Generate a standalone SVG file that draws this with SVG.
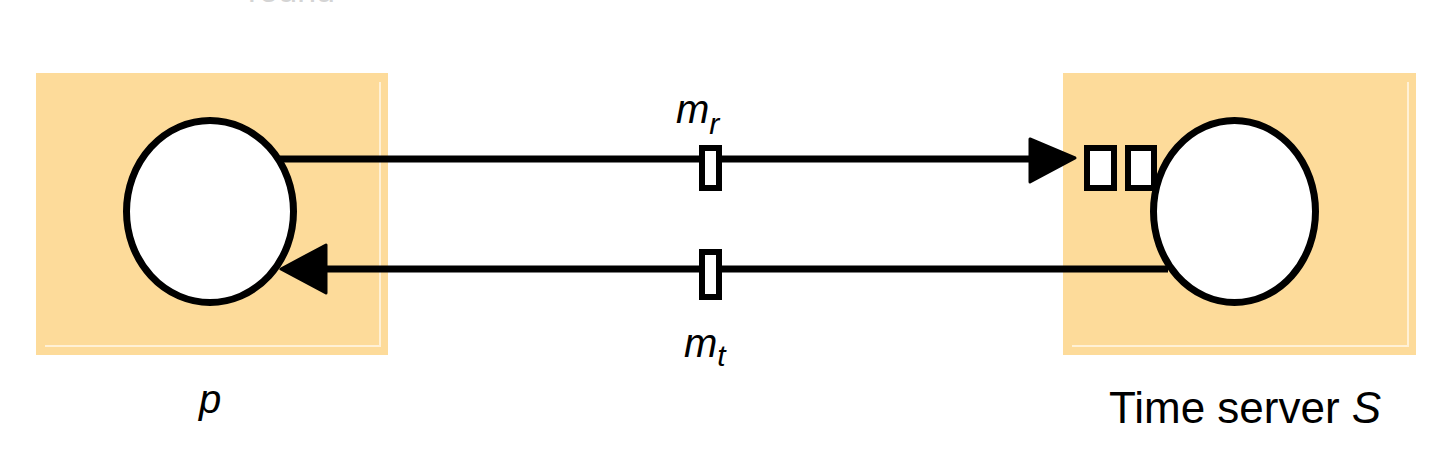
<svg xmlns="http://www.w3.org/2000/svg" width="1437" height="472" viewBox="0 0 1437 472">
<style>
.box{fill:#FDDB9A}
.hl{fill:none;stroke:#FFF1D6;stroke-width:2}
.proc{fill:#fff;stroke:#000;stroke-width:7}
.msg{fill:#fff;stroke:#000;stroke-width:6}
.line{stroke:#000;stroke-width:7;fill:none}
.head{fill:#000;stroke:#000;stroke-width:3;stroke-linejoin:round}
.it{font-family:"Liberation Sans",Arial,sans-serif;font-style:italic;fill:#000}
.lbl{font-family:"Liberation Sans",Arial,sans-serif;fill:#000}
.faint{font-family:"Liberation Sans",Arial,sans-serif;fill:#d4d4d4}
</style>
<rect width="1437" height="472" fill="#fff"/>
<text x="248" y="2" class="faint" font-size="34">round</text>
<g id="node-p">
<rect class="box" x="36" y="73" width="352" height="282"/>
<polyline class="hl" points="45,346 380,346 380,82"/>
<ellipse class="proc" cx="210" cy="211.5" rx="83.5" ry="91"/>
<text class="it" x="199" y="413" font-size="40">p</text>
</g>
<g id="node-s">
<rect class="box" x="1063" y="73" width="353" height="282"/>
<polyline class="hl" points="1072,346 1408,346 1408,82"/>
<ellipse class="proc" cx="1234.5" cy="211.5" rx="81" ry="91"/>
<rect class="msg" x="1087" y="148" width="27" height="40"/>
<rect class="msg" x="1128" y="148" width="26" height="40"/>
<text class="lbl" x="1109" y="423" font-size="44">Time server <tspan font-style="italic">S</tspan></text>
</g>
<g id="connectors">
<line class="line" x1="280" y1="159" x2="1032" y2="159"/>
<polygon class="head" points="1075,158 1030,139 1030,182"/>
<rect class="msg" x="702" y="148" width="17" height="40"/>
<text class="it" x="676" y="123" font-size="40">m<tspan font-size="30" dy="11">r</tspan></text>
<line class="line" x1="325" y1="269" x2="1168" y2="269"/>
<polygon class="head" points="281,269 326,245 326,293"/>
<rect class="msg" x="702" y="252" width="17" height="45"/>
<text class="it" x="684" y="357" font-size="40">m<tspan font-size="30" dy="9">t</tspan></text>
</g>
</svg>
